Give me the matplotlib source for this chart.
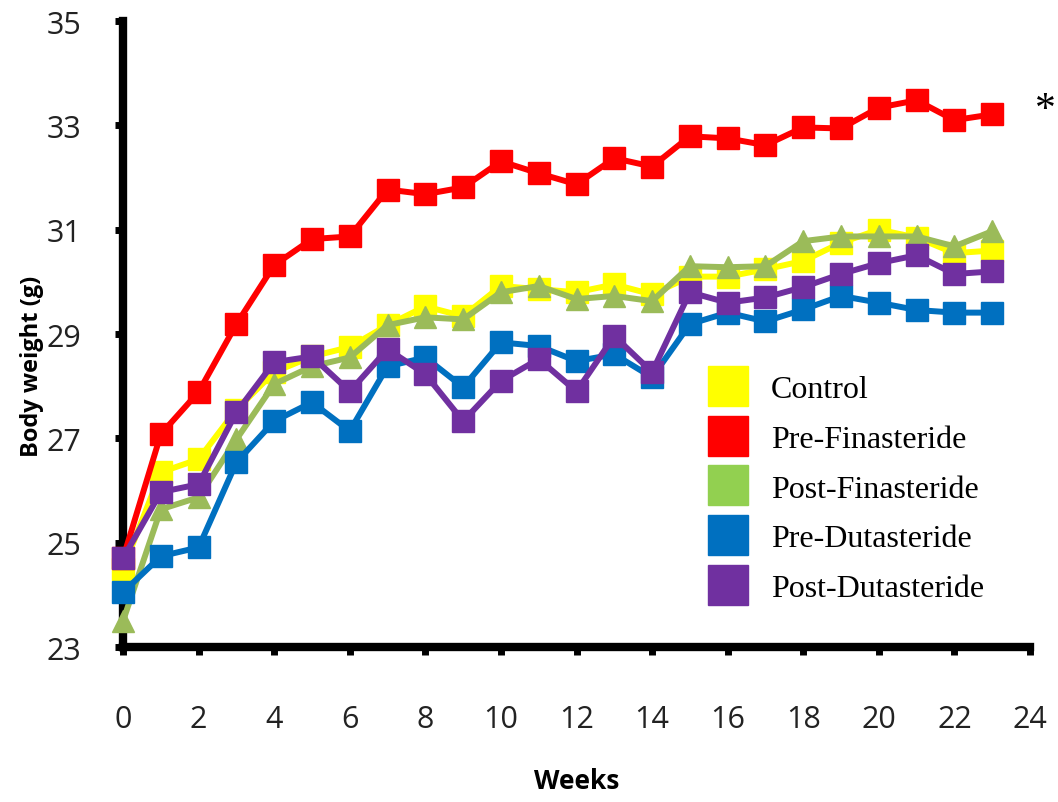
import numpy as np
import matplotlib.pyplot as plt
from matplotlib.lines import Line2D

# data
weeks = list(range(24))
control = [24.5, 26.35, 26.6, 27.55, 28.27, 28.57, 28.75, 29.17, 29.53, 29.34, 29.92, 29.86,
           29.8, 29.95, 29.76, 30.1, 30.1, 30.24, 30.4, 30.75, 31.0, 30.85, 30.55, 30.6]
pre_fin = [24.7, 27.08, 27.89, 29.19, 30.32, 30.82, 30.87, 31.77, 31.68, 31.81, 32.31, 32.08,
           31.87, 32.37, 32.21, 32.79, 32.75, 32.62, 32.96, 32.94, 33.34, 33.48, 33.10, 33.21]
post_fin = [23.5, 25.64, 25.87, 26.98, 28.04, 28.38, 28.55, 29.17, 29.32, 29.28, 29.8, 29.92,
            29.67, 29.73, 29.63, 30.3, 30.28, 30.3, 30.78, 30.87, 30.87, 30.87, 30.68, 30.97]
pre_dut = [24.05, 24.74, 24.91, 26.54, 27.33, 27.69, 27.14, 28.38, 28.55, 27.98, 28.84, 28.77,
           28.48, 28.61, 28.17, 29.19, 29.41, 29.24, 29.47, 29.73, 29.6, 29.46, 29.41, 29.41]
post_dut = [24.7, 25.97, 26.12, 27.5, 28.46, 28.57, 27.9, 28.71, 28.23, 27.33, 28.1, 28.52,
            27.9, 28.96, 28.27, 29.8, 29.6, 29.7, 29.9, 30.15, 30.36, 30.51, 30.15, 30.2]

labels = ['Control', 'Pre-Finasteride', 'Post-Finasteride', 'Pre-Dutasteride', 'Post-Dutasteride']
line_colors = ['#FFFF00', '#FF0000', '#9BBB59', '#0070C0', '#7030A0']
legend_colors = ['#FFFF00', '#FF0000', '#92D050', '#0070C0', '#7030A0']
markers = ['s', 's', '^', 's', 's']
series = [control, pre_fin, post_fin, pre_dut, post_dut]

fig = plt.figure(figsize=(10.58, 8.03), dpi=100)
ax = fig.add_axes([0.1163, 0.193, 0.8572, 0.7796])

for i in range(len(series)):
    ax.plot(weeks, series[i], color=line_colors[i], marker=markers[i],
            markersize=15.5 if markers[i] == 's' else 16.5, linewidth=4.3,
            clip_on=False, zorder=5 + i)

ax.set_xlim(0, 24)
ax.set_ylim(23, 35)
ax.set_xticks(np.arange(0, 25, 2))
ax.set_yticks(np.arange(23, 36, 2))

for s in ['top', 'right']:
    ax.spines[s].set_visible(False)
for s in ['left', 'bottom']:
    ax.spines[s].set_linewidth(6)
    ax.spines[s].set_zorder(3)
ax.tick_params(axis='both', direction='out', length=6, width=5, labelsize=22)
ax.tick_params(axis='x', pad=35)
ax.tick_params(axis='y', pad=24)
for t in ax.get_xticklabels() + ax.get_yticklabels():
    t.set_fontfamily('Open Sans')
    t.set_color('#222222')

ax.set_ylabel('Body weight (g)', fontsize=17, fontweight='bold', family='Open Sans')
ax.yaxis.set_label_coords(-0.087, 0.45)
ax.set_xlabel('Weeks', fontsize=19, fontweight='bold', family='Open Sans', labelpad=24)

fig.text(0.988, 0.862, '*', fontsize=30, family='Liberation Serif', ha='center', va='center')

handles = [Line2D([], [], color=c, marker='s', linestyle='None', markersize=29) for c in legend_colors]
ax.legend(handles, labels, loc='upper left', bbox_to_anchor=(0.641, 0.568),
          bbox_transform=fig.transFigure, frameon=False,
          prop={'family': 'Liberation Serif', 'size': 23},
          labelspacing=0.64, handletextpad=0.7, handlelength=1.3)

fig.savefig('out.png', dpi=100)
